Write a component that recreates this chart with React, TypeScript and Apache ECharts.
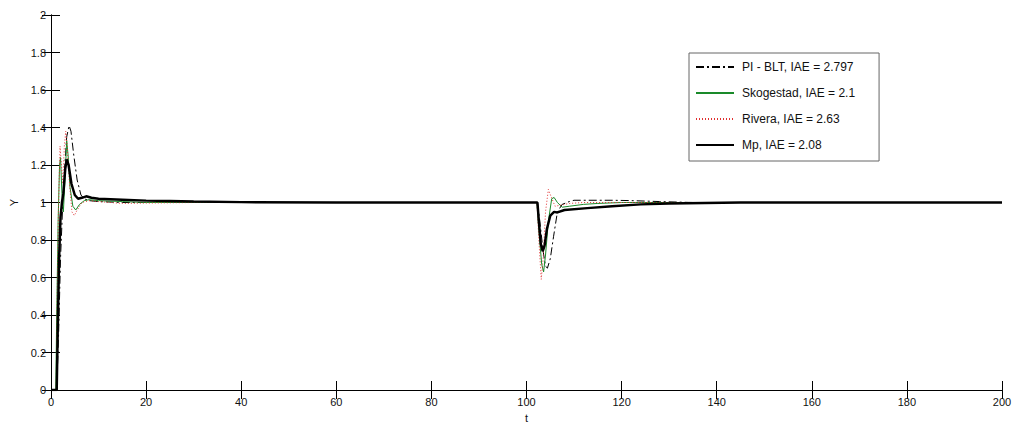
import React, { useEffect, useRef } from "react";
import * as echarts from "echarts";

const xTicks = [0, 20, 40, 60, 80, 100, 120, 140, 160, 180, 200];
const yTicks = [0, 0.2, 0.4, 0.6, 0.8, 1, 1.2, 1.4, 1.6, 1.8, 2];

const seriesNames = [
  "PI - BLT, IAE = 2.797",
  "Skogestad, IAE = 2.1",
  "Rivera, IAE = 2.63",
  "Mp, IAE = 2.08",
];

// [t, y]
const piBlt: [number, number][] = [
  [0, 0], [1.2, 0], [1.6, 0.3], [2.0, 0.7], [2.4, 0.95], [2.8, 1.15], [3.3, 1.35], [3.8, 1.41],
  [4.2, 1.38], [4.8, 1.25], [5.5, 1.12], [6.3, 1.04], [7.0, 1.02], [8, 1.01], [10, 1.005], [15, 1.0],
  [102.3, 1.0], [102.8, 0.9], [103.5, 0.74], [104.0, 0.66], [104.4, 0.65], [105.0, 0.7], [105.7, 0.82],
  [106.5, 0.95], [107.5, 0.99], [109, 1.005], [110, 1.012], [118, 1.012], [122, 1.01], [128, 1.005],
  [135, 1.0], [200, 1.0],
];

const skogestad: [number, number][] = [
  [0, 0], [1.0, 0], [1.2, 0.4], [1.5, 0.9], [1.8, 1.2], [2.0, 1.24], [2.3, 1.05], [2.6, 0.95],
  [3.0, 1.15], [3.3, 1.33], [3.6, 1.25], [4.0, 1.08], [4.6, 0.98], [5.2, 0.96], [6.0, 0.99],
  [7.0, 1.01], [8, 1.015], [10, 1.01], [15, 1.005], [20, 1.0],
  [102.2, 1.0], [102.6, 0.85], [103.2, 0.67], [103.6, 0.63], [104.0, 0.72], [104.6, 0.9],
  [105.3, 1.02], [105.8, 1.027], [106.5, 1.0], [107.5, 0.975], [109, 0.98], [112, 0.99],
  [115, 0.995], [120, 1.0], [200, 1.0],
];

const rivera: [number, number][] = [
  [0, 0], [1.1, 0], [1.3, 0.5], [1.6, 1.0], [1.9, 1.3], [2.2, 1.2], [2.5, 1.1], [2.8, 1.3],
  [3.1, 1.38], [3.4, 1.3], [3.9, 1.1], [4.4, 0.95], [4.9, 0.93], [5.5, 0.96], [6.5, 1.0],
  [8, 1.01], [10, 1.005], [15, 0.995], [20, 0.997], [30, 1.0],
  [102.2, 1.0], [102.6, 0.8], [103.1, 0.59], [103.5, 0.7], [104.0, 0.95], [104.6, 1.07],
  [105.2, 1.03], [106, 0.98], [107, 0.985], [109, 0.995], [112, 1.0], [200, 1.0],
];

const mp: [number, number][] = [
  [0, 0], [1.2, 0], [1.4, 0.3], [1.7, 0.7], [2.0, 0.92], [2.3, 1.0], [2.6, 1.05], [3.0, 1.18],
  [3.3, 1.23], [3.7, 1.2], [4.3, 1.1], [5.0, 1.04], [5.7, 1.02], [6.5, 1.025], [7.4, 1.033],
  [8.5, 1.025], [10, 1.02], [15, 1.015], [20, 1.01], [25, 1.008], [30, 1.005], [40, 1.002], [60, 1.0],
  [102.3, 1.0], [102.6, 0.9], [103.0, 0.78], [103.4, 0.74], [103.8, 0.77], [104.3, 0.86],
  [105.0, 0.93], [105.8, 0.95], [106.5, 0.947], [108, 0.96], [112.8, 0.97], [118, 0.98],
  [124, 0.99], [130, 0.995], [145, 1.0], [200, 1.0],
];

export default function App() {
  const ref = useRef<HTMLDivElement>(null);
  useEffect(() => {
    if (!ref.current) return;
    const chart = echarts.init(ref.current, undefined, { renderer: "svg" });
    const font = "'Liberation Sans', Arial, sans-serif";
    const labelStyle = { color: "#111", fontSize: 11, fontFamily: font };
    const tickCommon = { inside: true, length: 9, lineStyle: { color: "#000", width: 1 } };
    chart.setOption({
      animation: false,
      backgroundColor: "#fff",
      grid: { left: 50, right: 14, top: 15, bottom: 37, containLabel: false },
      legend: {
        orient: "vertical",
        left: 689,
        top: 53,
        padding: [8, 24, 10, 6],
        itemGap: 14,
        itemWidth: 38,
        itemHeight: 14,
        borderColor: "#666",
        borderWidth: 1,
        backgroundColor: "#fff",
        data: seriesNames,
        itemStyle: { opacity: 0 },
        textStyle: { color: "#111", fontSize: 12, fontFamily: font, padding: [0, 0, 0, 3] },
      },
      xAxis: [
        {
          type: "value",
          min: xTicks[0],
          max: xTicks[xTicks.length - 1],
          interval: 20,
          name: "t",
          nameLocation: "middle",
          nameGap: 22,
          nameTextStyle: labelStyle,
          axisLine: { lineStyle: { color: "#000", width: 1 } },
          axisTick: tickCommon,
          axisLabel: { ...labelStyle, margin: 6 },
          splitLine: { show: false },
        },
        {
          type: "value",
          position: "top",
          min: xTicks[0],
          max: xTicks[xTicks.length - 1],
          interval: 20,
          axisLine: { show: true, lineStyle: { color: "#000", width: 1 } },
          axisTick: tickCommon,
          axisLabel: { show: false },
          splitLine: { show: false },
        },
      ],
      yAxis: [
        {
          type: "value",
          min: yTicks[0],
          max: yTicks[yTicks.length - 1],
          interval: 0.2,
          name: "Y",
          nameLocation: "middle",
          nameGap: 32,
          nameTextStyle: labelStyle,
          axisLine: { show: true, lineStyle: { color: "#000", width: 1 } },
          axisTick: tickCommon,
          axisLabel: { ...labelStyle, margin: 5 },
          splitLine: { show: false },
        },
        {
          type: "value",
          position: "right",
          min: yTicks[0],
          max: yTicks[yTicks.length - 1],
          interval: 0.2,
          axisLine: { show: true, lineStyle: { color: "#000", width: 1 } },
          axisTick: tickCommon,
          axisLabel: { show: false },
          splitLine: { show: false },
        },
      ],
      series: [
        {
          name: seriesNames[0],
          type: "line",
          data: piBlt,
          symbol: "none",
          z: 3,
          lineStyle: { color: "#000", width: 1, type: [8, 3, 2, 3] },
          itemStyle: { color: "#000" },
        },
        {
          name: seriesNames[1],
          type: "line",
          data: skogestad,
          symbol: "none",
          z: 4,
          lineStyle: { color: "#1a8a2a", width: 1 },
          itemStyle: { color: "#1a8a2a" },
        },
        {
          name: seriesNames[2],
          type: "line",
          data: rivera,
          symbol: "none",
          z: 4,
          lineStyle: { color: "#e03030", width: 1, type: [1, 2] },
          itemStyle: { color: "#e03030" },
        },
        {
          name: seriesNames[3],
          type: "line",
          data: mp,
          symbol: "none",
          z: 5,
          lineStyle: { color: "#000", width: 2.5 },
          itemStyle: { color: "#000" },
        },
      ],
    });
    return () => chart.dispose();
  }, []);
  return (
    <div
      ref={ref}
      style={{ position: "fixed", left: 0, top: 0, width: 1016, height: 428 }}
    />
  );
}
